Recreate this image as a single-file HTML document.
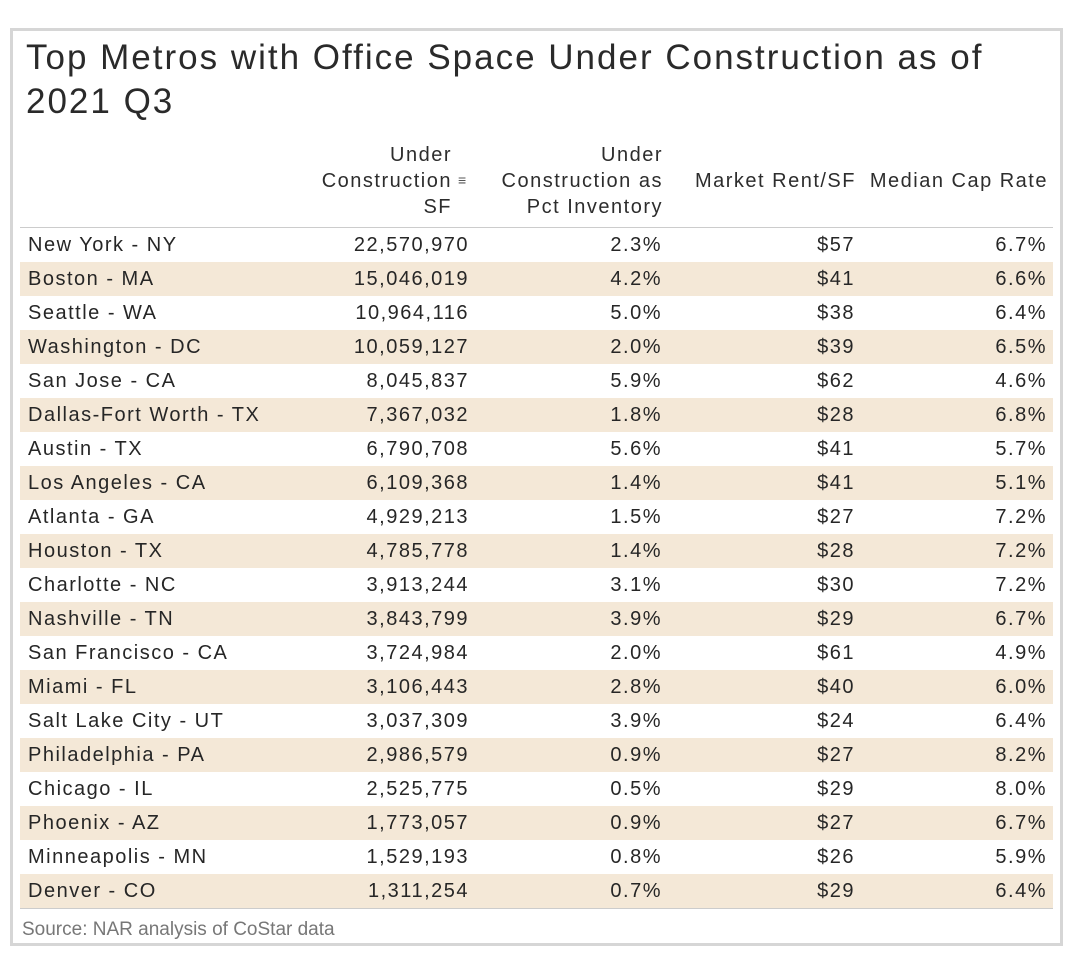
<!DOCTYPE html>
<html><head><meta charset="utf-8"><style>
body{margin:0;width:1074px;height:963px;background:#fff;font-family:"Liberation Sans",sans-serif;color:#333;position:relative;overflow:hidden}
#frame{position:absolute;left:10px;top:28px;width:1047px;height:912px;border:3px solid #d6d6d6;background:#fff}
#title{position:absolute;left:26px;top:36px;font-size:35px;line-height:44px;letter-spacing:2px;color:#2a2a2a;width:1040px;white-space:nowrap}
.hdr{position:absolute;top:142px;font-size:20px;line-height:26px;letter-spacing:1.5px;text-align:right;color:#2d2d2d}
table{position:absolute;left:20px;top:227px;width:1033px;border-collapse:collapse;font-size:20px;letter-spacing:1.5px;border-top:1px solid #ccc;border-bottom:1px solid #ccc}
td{height:34px;padding:0;color:#262626}
tr:nth-child(even) td{background:#f4e8d7}
td.n{text-align:right}
#src{position:absolute;left:22px;top:919px;font-size:19px;color:#777}
</style></head><body>
<div id="frame"></div>
<div id="title">Top Metros with Office Space Under Construction as of<br>2021 Q3</div>
<div class="hdr" style="left:250px;width:202px">Under<br>Construction<br>SF</div>
<div style="position:absolute;left:458px;top:172px;font-size:14px;color:#555">&#8801;</div>
<div class="hdr" style="left:470px;width:193px">Under<br>Construction as<br>Pct Inventory</div>
<div class="hdr" style="left:663px;width:193px;top:168px">Market Rent/SF</div>
<div class="hdr" style="left:856px;width:192px;top:168px">Median Cap Rate</div>
<table><tbody id="tb"></tbody></table>
<div id="src">Source: NAR analysis of CoStar data</div>
<script>
const metros=["New York - NY","Boston - MA","Seattle - WA","Washington - DC","San Jose - CA","Dallas-Fort Worth - TX","Austin - TX","Los Angeles - CA","Atlanta - GA","Houston - TX","Charlotte - NC","Nashville - TN","San Francisco - CA","Miami - FL","Salt Lake City - UT","Philadelphia - PA","Chicago - IL","Phoenix - AZ","Minneapolis - MN","Denver - CO"];
const underConstruction=[22570970,15046019,10964116,10059127,8045837,7367032,6790708,6109368,4929213,4785778,3913244,3843799,3724984,3106443,3037309,2986579,2525775,1773057,1529193,1311254];
const pctInventory=[2.3,4.2,5.0,2.0,5.9,1.8,5.6,1.4,1.5,1.4,3.1,3.9,2.0,2.8,3.9,0.9,0.5,0.9,0.8,0.7];
const marketRent=[57,41,38,39,62,28,41,41,27,28,30,29,61,40,24,27,29,27,26,29];
const capRate=[6.7,6.6,6.4,6.5,4.6,6.8,5.7,5.1,7.2,7.2,7.2,6.7,4.9,6.0,6.4,8.2,8.0,6.7,5.9,6.4];
const tb=document.getElementById('tb');
metros.forEach((m,i)=>{
 const tr=document.createElement('tr');
 
 
 const cells=[[m,'','width:260px;padding-left:8px'],[underConstruction[i].toLocaleString('en-US'),'n','width:181px;padding-right:0'],[pctInventory[i].toFixed(1)+'%','n','width:193px'],['$'+marketRent[i],'n','width:193px'],[capRate[i].toFixed(1)+'%','n','padding-right:6px']];
 cells.forEach(c=>{const td=document.createElement('td');td.textContent=c[0];td.className=c[1];td.style.cssText=c[2];
 
 
 tr.appendChild(td);});
 tb.appendChild(tr);
});
</script>
</body></html>
